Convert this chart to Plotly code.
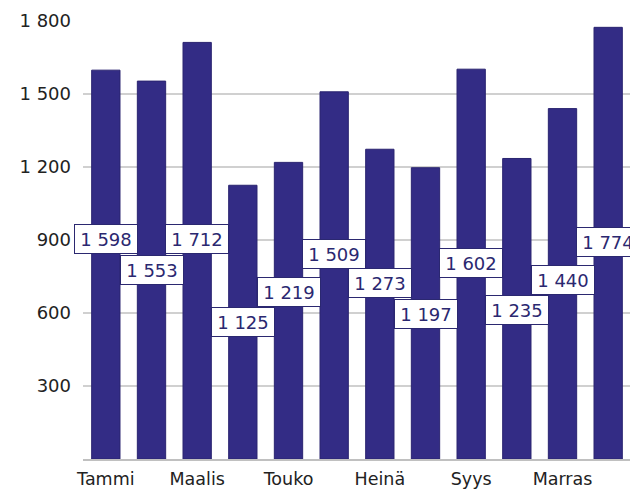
import plotly.graph_objects as go

months = ['Tammi', 'Helmi', 'Maalis', 'Huhti', 'Touko', 'Kesä',
          'Heinä', 'Elo', 'Syys', 'Loka', 'Marras', 'Joulu']
values = [1598, 1553, 1712, 1125, 1219, 1509,
          1273, 1197, 1602, 1235, 1440, 1774]
# height (in data units) at which each value box sits
label_y = [904, 777, 904, 563, 686, 842, 723, 596, 805, 612, 737, 892]
shown_ticks = ['Tammi', 'Maalis', 'Touko', 'Heinä', 'Syys', 'Marras']
y_ticks = [300, 600, 900, 1200, 1500, 1800]

BAR = '#332c85'
FONT = 'DejaVu Sans'

fig = go.Figure()
fig.add_trace(go.Bar(
    x=months,
    y=values,
    marker=dict(color=BAR, line=dict(color='#2a2470', width=1)),
    hoverinfo='x+y'))

for m, v, ly in zip(months, values, label_y):
    fig.add_annotation(
        x=m, y=ly,
        text='{:,}'.format(v).replace(',', ' '),
        showarrow=False,
        font=dict(family=FONT, size=18, color='#2b2870'),
        bgcolor='white',
        bordercolor='#2b2870',
        borderwidth=1,
        borderpad=2,
        width=58,
        height=24)

# page body adds an 8px offset, margins account for it
fig.update_layout(
    width=638,
    height=492,
    margin=dict(l=75, r=15, t=13, b=41),
    plot_bgcolor='white',
    paper_bgcolor='white',
    separators=', ',
    showlegend=False,
    bargap=0.38,
    xaxis=dict(
        type='category',
        range=[-0.5, len(months) - 0.5],
        tickvals=shown_ticks,
        ticktext=shown_ticks,
        showline=True,
        linecolor='#c0c0c0',
        linewidth=2,
        showgrid=False,
        ticks='',
        automargin=False,
        ticklabelstandoff=3,
        tickfont=dict(family=FONT, size=17.5, color='#222222')),
    yaxis=dict(
        range=[0, 1800],
        tickvals=y_ticks,
        tickformat=',',
        showgrid=True,
        gridcolor='#d0d0d0',
        gridwidth=2,
        zeroline=False,
        ticks='',
        automargin=False,
        ticklabelstandoff=11,
        tickfont=dict(family=FONT, size=18, color='#222222')))

fig.write_html('out.html')
